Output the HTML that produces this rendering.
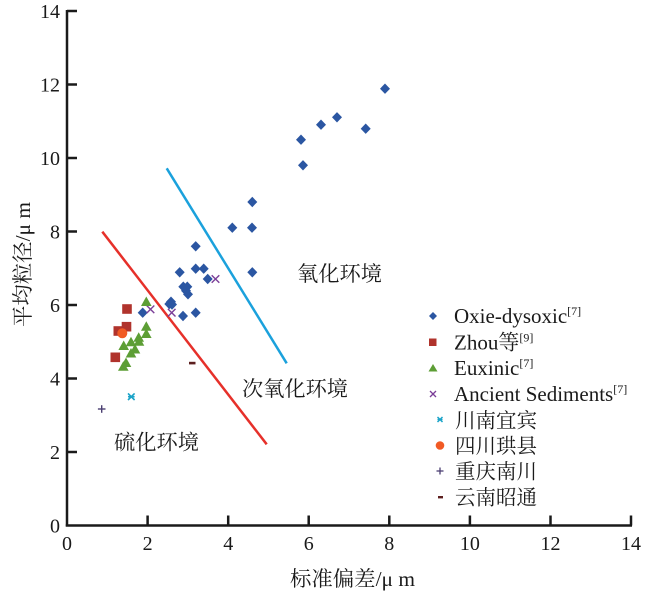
<!DOCTYPE html>
<html><head><meta charset="utf-8"><style>
html,body{margin:0;padding:0;background:#fff;}
svg{display:block;}
.t{font-family:"Liberation Serif","Noto Serif CJK SC",serif;fill:#1a1a1a;}
</style></head><body>
<svg width="650" height="591" viewBox="0 0 650 591" xmlns="http://www.w3.org/2000/svg">
<defs>
<polygon id="d" points="0,-5.2 5,0 0,5.2 -5,0" fill="#2b56a2"/>
<rect id="s" x="-4.8" y="-4.8" width="9.6" height="9.6" fill="#b0332c"/>
<polygon id="tr" points="0,-5.5 5.3,4 -5.3,4" fill="#5d9e35"/>
<g id="x" stroke="#7b3f98" stroke-width="1.4"><line x1="-3.8" y1="-3.8" x2="3.8" y2="3.8"/><line x1="-3.8" y1="3.8" x2="3.8" y2="-3.8"/></g>
</defs>

<!-- axes -->
<g stroke="#1a1a1a" stroke-width="2.5" fill="none">
<line x1="67" y1="10" x2="67" y2="526.5"/>
<line x1="65.8" y1="525.5" x2="632" y2="525.5"/>
<line x1="67" y1="11" x2="77" y2="11"/>
<line x1="67" y1="84.5" x2="77" y2="84.5"/>
<line x1="67" y1="158" x2="77" y2="158"/>
<line x1="67" y1="231.5" x2="77" y2="231.5"/>
<line x1="67" y1="305" x2="77" y2="305"/>
<line x1="67" y1="378.5" x2="77" y2="378.5"/>
<line x1="67" y1="452" x2="77" y2="452"/>
<line x1="147.6" y1="525.5" x2="147.6" y2="515.5"/>
<line x1="228.2" y1="525.5" x2="228.2" y2="515.5"/>
<line x1="308.7" y1="525.5" x2="308.7" y2="515.5"/>
<line x1="389.3" y1="525.5" x2="389.3" y2="515.5"/>
<line x1="469.9" y1="525.5" x2="469.9" y2="515.5"/>
<line x1="550.5" y1="525.5" x2="550.5" y2="515.5"/>
<line x1="631" y1="525.5" x2="631" y2="515.5"/>
</g>

<!-- tick labels -->
<g class="t" font-size="20" text-anchor="end">
<text x="60" y="18">14</text>
<text x="60" y="91.5">12</text>
<text x="60" y="165">10</text>
<text x="60" y="238.5">8</text>
<text x="60" y="312">6</text>
<text x="60" y="385.5">4</text>
<text x="60" y="459">2</text>
<text x="60" y="532.5">0</text>
</g>
<g class="t" font-size="20" text-anchor="middle">
<text x="67" y="550">0</text>
<text x="147.6" y="550">2</text>
<text x="228.2" y="550">4</text>
<text x="308.7" y="550">6</text>
<text x="389.3" y="550">8</text>
<text x="469.9" y="550">10</text>
<text x="550.5" y="550">12</text>
<text x="631" y="550">14</text>
</g>

<!-- axis titles -->
<text class="t" font-size="21" x="290" y="586" textLength="125" lengthAdjust="spacingAndGlyphs">标准偏差/μ m</text>
<text class="t" font-size="21" transform="translate(30,327) rotate(-90)" x="0" y="0" textLength="125" lengthAdjust="spacingAndGlyphs">平均粒径/μ m</text>

<!-- boundary lines -->
<line x1="102.3" y1="231.7" x2="266.7" y2="444.3" stroke="#e6302a" stroke-width="2.5"/>
<line x1="166.7" y1="168.3" x2="286.7" y2="363.3" stroke="#1ba1dc" stroke-width="2.5"/>

<!-- region labels -->
<text class="t" font-size="21" x="114" y="449.5" textLength="85" lengthAdjust="spacingAndGlyphs">硫化环境</text>
<text class="t" font-size="21" x="242" y="396" textLength="106" lengthAdjust="spacingAndGlyphs">次氧化环境</text>
<text class="t" font-size="21" x="297" y="281" textLength="85" lengthAdjust="spacingAndGlyphs">氧化环境</text>

<!-- diamonds -->
<use href="#d" x="385" y="88.7"/>
<use href="#d" x="337" y="117.3"/>
<use href="#d" x="321" y="124.7"/>
<use href="#d" x="365.7" y="128.7"/>
<use href="#d" x="301" y="139.7"/>
<use href="#d" x="303" y="165.3"/>
<use href="#d" x="252.3" y="202"/>
<use href="#d" x="232.3" y="227.7"/>
<use href="#d" x="252" y="227.7"/>
<use href="#d" x="195.7" y="246.3"/>
<use href="#d" x="252.3" y="272.3"/>
<use href="#d" x="179.7" y="272.3"/>
<use href="#d" x="195.7" y="268.7"/>
<use href="#d" x="203.7" y="268.7"/>
<use href="#d" x="207.7" y="279"/>
<use href="#d" x="183.3" y="286.7"/>
<use href="#d" x="187.3" y="286.7"/>
<use href="#d" x="186" y="290.7"/>
<use href="#d" x="188" y="294.3"/>
<use href="#d" x="171" y="301.7"/>
<use href="#d" x="169.3" y="304"/>
<use href="#d" x="172" y="304.5"/>
<use href="#d" x="183" y="316"/>
<use href="#d" x="195.7" y="312.7"/>
<use href="#d" x="142.7" y="312.7"/>

<!-- X marks -->
<use href="#x" x="215.5" y="279"/>
<use href="#x" x="150.5" y="309.3"/>
<use href="#x" x="171.7" y="312.7"/>

<!-- squares -->
<use href="#s" x="127" y="309"/>
<use href="#s" x="126.5" y="326.7"/>
<use href="#s" x="118.3" y="331"/>
<use href="#s" x="115.3" y="357.3"/>

<!-- triangles -->
<use href="#tr" x="146.3" y="302"/>
<use href="#tr" x="146.3" y="326.7"/>
<use href="#tr" x="146.3" y="334"/>
<use href="#tr" x="138.7" y="337.7"/>
<use href="#tr" x="139" y="341.8"/>
<use href="#tr" x="131" y="342.3"/>
<use href="#tr" x="123.7" y="346"/>
<use href="#tr" x="135" y="349.5"/>
<use href="#tr" x="131" y="353.5"/>
<use href="#tr" x="126" y="363"/>
<use href="#tr" x="123.3" y="366.8"/>

<!-- orange circle -->
<circle cx="122.3" cy="333.3" r="5" fill="#f15a24"/>

<!-- cyan star -->
<g stroke="#1aa3c8" stroke-width="1.6" transform="translate(131.3,396.7)">
<line x1="-3.3" y1="-3.3" x2="3.3" y2="3.3"/><line x1="-3.3" y1="3.3" x2="3.3" y2="-3.3"/><line x1="-3.3" y1="0" x2="3.3" y2="0"/>
</g>
<!-- plus -->
<g stroke="#4b3f72" stroke-width="1.4" transform="translate(101.7,409)">
<line x1="-3.8" y1="0" x2="3.8" y2="0"/><line x1="0" y1="-3.8" x2="0" y2="3.8"/>
</g>
<!-- dash -->
<rect x="189" y="361.8" width="6.5" height="2.6" fill="#5c1f1f"/>

<!-- legend markers -->
<polygon points="433,312 437,316 433,320 429,316" fill="#2b56a2"/>
<rect x="429" y="338.5" width="7.5" height="7.5" fill="#b0332c"/>
<polygon points="433,364 437.5,371.5 428.5,371.5" fill="#5d9e35"/>
<g stroke="#7b3f98" stroke-width="1.3"><line x1="430" y1="391" x2="436" y2="397"/><line x1="430" y1="397" x2="436" y2="391"/></g>
<g stroke="#1aa3c8" stroke-width="1.5"><line x1="437.5" y1="417" x2="442.5" y2="422"/><line x1="437.5" y1="422" x2="442.5" y2="417"/><line x1="437.5" y1="419.5" x2="442.5" y2="419.5"/></g>
<circle cx="440" cy="445.5" r="4.3" fill="#f15a24"/>
<g stroke="#4b3f72" stroke-width="1.3"><line x1="436.5" y1="471" x2="443.5" y2="471"/><line x1="440" y1="467.5" x2="440" y2="474.5"/></g>
<rect x="438" y="496" width="5" height="2.4" fill="#5c1f1f"/>

<!-- legend text -->
<g class="t" font-size="21">
<text x="454" y="323">Oxie-dysoxic<tspan font-size="12" dy="-8">[7]</tspan></text>
<text x="454" y="349.5">Zhou等<tspan font-size="12" dy="-8">[9]</tspan></text>
<text x="454" y="375">Euxinic<tspan font-size="12" dy="-8">[7]</tspan></text>
<text x="454" y="401">Ancient Sediments<tspan font-size="12" dy="-8">[7]</tspan></text>
<text x="455" y="427.5" font-size="20.5">川南宜宾</text>
<text x="455" y="453" font-size="20.5">四川珙县</text>
<text x="455" y="478.5" font-size="20.5">重庆南川</text>
<text x="455" y="504.5" font-size="20.5">云南昭通</text>
</g>
</svg>
</body></html>
